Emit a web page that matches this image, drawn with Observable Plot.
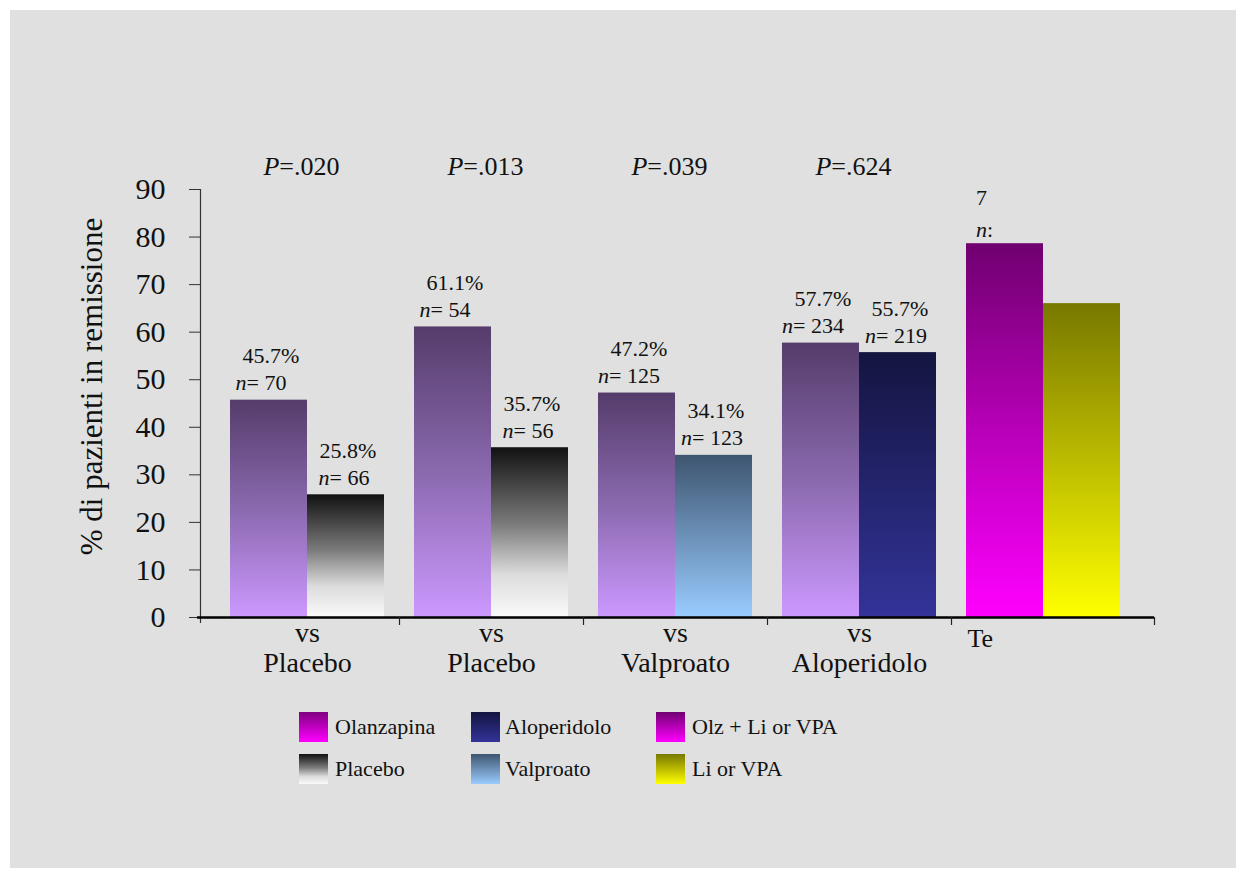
<!DOCTYPE html>
<html>
<head>
<meta charset="utf-8">
<script src="https://cdn.jsdelivr.net/npm/d3@7"></script>
<script src="https://cdn.jsdelivr.net/npm/@observablehq/plot@0.6"></script>
<style>
  html, body { margin: 0; padding: 0; background: #ffffff; }
  #wrap { position: relative; width: 1246px; height: 875px; font-family: "Liberation Serif", "Times New Roman", serif; color: #111; }
  #panel { position: absolute; left: 10px; top: 10px; width: 1226px; height: 858px; background: #dfe0df; }
  #chart { position: absolute; left: 0; top: 0; }
  .lg { position: absolute; display: flex; align-items: center; font-size: 22px; white-space: nowrap; }
  .sw { width: 29px; height: 30px; margin-right: 6px; }
</style>
</head>
<body>
<div id="wrap">
  <div id="panel"></div>
  <div id="chart"></div>
  <div id="legend"></div>
</div>
<script>
// ---- data ----
const groups = ["A", "B", "C", "D", "E"];
const groupTopLabels = ["vs", "vs", "vs", "vs"];
const groupBottomLabels = ["Placebo", "Placebo", "Valproato", "Aloperidolo"];
const lastGroupLabel = "Te";
const pValues = [".020", ".013", ".039", ".624"];

const leftSeries = ["Olanzapina", "Olanzapina", "Olanzapina", "Olanzapina", "Olz + Li or VPA"];
const leftValues = [45.7, 61.1, 47.2, 57.7, 78.6];
const leftN = [70, 54, 125, 234];

const rightSeries = ["Placebo", "Placebo", "Valproato", "Aloperidolo", "Li or VPA"];
const rightValues = [25.8, 35.7, 34.1, 55.7, 66.0];
const rightN = [66, 56, 123, 219];

const yTicks = [0, 10, 20, 30, 40, 50, 60, 70, 80, 90];
const yTitle = "% di pazienti in remissione";

const legendItems = [
  ["Olanzapina", "Aloperidolo", "Olz + Li or VPA"],
  ["Placebo", "Valproato", "Li or VPA"]
];

// ---- styles (gradients) ----
const barGradients = {
  "Olanzapina": [[0, "#553c6b"], [0.5, "#8a69ae"], [1, "#cc99ff"]],
  "Placebo": [[0, "#111111"], [0.45, "#7a7a7a"], [0.75, "#dcdcdc"], [1, "#fafafa"]],
  "Valproato": [[0, "#3e5570"], [1, "#99ccff"]],
  "Aloperidolo": [[0, "#141540"], [1, "#333399"]],
  "Olz + Li or VPA": [[0, "#700070"], [1, "#ff00ff"]],
  "Li or VPA": [[0, "#787800"], [1, "#ffff00"]]
};
const legendGradients = Object.assign({}, barGradients, {
  "Olanzapina": [[0, "#800080"], [1, "#ff00ff"]]
});
const gid = s => "g_" + s.replace(/[^A-Za-z]/g, "");

const left = groups.map((g, i) => ({group: g, value: leftValues[i], fill: `url(#${gid(leftSeries[i])})`, pct: leftValues[i].toFixed(1) + "%", n: leftN[i]}));
const right = groups.map((g, i) => ({group: g, value: rightValues[i], fill: `url(#${gid(rightSeries[i])})`, pct: rightValues[i].toFixed(1) + "%", n: rightN[i]}));
const labeledLeft = left.slice(0, 4);
const labeledRight = right.slice(0, 4);
const lastLeft = left.slice(4);

const font = "'Liberation Serif', 'Times New Roman', serif";
const off = 38.5;

const svg = Plot.plot({
  width: 1246,
  height: 690,
  marginLeft: 200,
  marginRight: 92,
  marginTop: 189,
  marginBottom: 73,
  style: {background: "transparent", fontFamily: font, color: "#111", overflow: "visible"},
  x: {domain: groups, range: [215, 1135], padding: 0, axis: null},
  y: {domain: [0, 90], axis: null},
  color: {type: "identity"},
  marks: [
    Plot.axisY({ticks: yTicks, tickSize: 11, tickPadding: 24, fontSize: 30, label: null, stroke: "#333", fill: "#111"}),
    Plot.text([yTitle], {frameAnchor: "left", text: d => d, rotate: -90, textAnchor: "middle", lineAnchor: "middle", dx: -108, dy: -17, fontSize: 31, fill: "#111"}),
    Plot.barY(left, {x: "group", y: "value", fill: "fill", insetLeft: 15, insetRight: 92}),
    Plot.barY(right, {x: "group", y: "value", fill: "fill", insetLeft: 92, insetRight: 15}),
    Plot.ruleX([groups[0]], {x: d => d, dx: -107, stroke: "#333", strokeWidth: 1.2, insetBottom: -6}),
    Plot.ruleY([0], {stroke: "#000", strokeWidth: 2.5, insetLeft: -3}),
    Plot.ruleX(groups.slice(1), {x: d => d, y1: 0, y2: 0, dx: -92, insetBottom: -8, stroke: "#222", strokeWidth: 1.2}),
    Plot.ruleX([groups[4]], {x: d => d, y1: 0, y2: 0, dx: 111, insetBottom: -8, stroke: "#222", strokeWidth: 1.2}),
    // value labels
    Plot.text(labeledLeft, {x: "group", y: "value", text: "pct", dx: -off + 2, dy: -44, fontSize: 22, fill: "#111"}),
    Plot.text(labeledRight, {x: "group", y: "value", text: "pct", dx: off + 2, dy: -44, fontSize: 22, fill: "#111"}),
    Plot.text(labeledLeft, {x: "group", y: "value", text: d => "n= " + d.n, dx: -off - 8, dy: -17, fontSize: 22, fill: "#111", ariaDescription: "ital"}),
    Plot.text(labeledRight, {x: "group", y: "value", text: d => "n= " + d.n, dx: off - 2, dy: -17, fontSize: 22, fill: "#111", ariaDescription: "ital"}),
    // truncated labels of last group
    Plot.text(lastLeft, {x: "group", y: "value", text: d => d.pct.slice(0, 1), textAnchor: "start", dx: -off - 29, dy: -46, fontSize: 22, fill: "#111"}),
    Plot.text(lastLeft, {x: "group", y: "value", text: () => "n:", textAnchor: "start", dx: -off - 29, dy: -14, fontSize: 22, fill: "#111", ariaDescription: "ital"}),
    // p-values
    Plot.text(groups.slice(0, 4), {x: d => d, text: (d, i) => "P=" + pValues[i], frameAnchor: "top", lineAnchor: "middle", dy: -23, dx: -6, fontSize: 26, fill: "#111", ariaDescription: "ital"}),
    // group labels
    Plot.text(groups.slice(0, 4), {x: d => d, text: (d, i) => groupTopLabels[i] + "\n" + groupBottomLabels[i], frameAnchor: "bottom", lineAnchor: "middle", lineHeight: 1.07, dy: 30, fontSize: 28, fill: "#111"}),
    Plot.text([groups[4]], {x: d => d, text: () => lastGroupLabel, frameAnchor: "bottom", textAnchor: "start", lineAnchor: "middle", dx: -76, dy: 21, fontSize: 26, fill: "#111"})
  ]
});

// gradient definitions
const defs = d3.select(svg).insert("defs", ":first-child");
Object.entries(barGradients).forEach(([name, stops]) => {
  const lg = defs.append("linearGradient").attr("id", gid(name)).attr("x1", 0).attr("y1", 0).attr("x2", 0).attr("y2", 1);
  stops.forEach(([o, c]) => lg.append("stop").attr("offset", o).attr("stop-color", c));
});

// italicize the first letter (n, P)
d3.select(svg).selectAll('g[aria-description="ital"] text').each(function () {
  const s = this.textContent;
  const el = d3.select(this);
  el.text(null);
  el.append("tspan").attr("font-style", "italic").text(s[0]);
  el.append("tspan").text(s.slice(1));
});

document.getElementById("chart").appendChild(svg);

// legend
const legendX = [[299, 335], [471, 505], [656, 692]];
const legendY = [712, 754];
const legendEl = document.getElementById("legend");
legendItems.forEach((row, r) => {
  row.forEach((name, c) => {
    const item = document.createElement("div");
    item.className = "lg";
    item.style.left = legendX[c][0] + "px";
    item.style.top = legendY[r] + "px";
    const sw = document.createElement("div");
    sw.className = "sw";
    const stops = legendGradients[name].map(([o, col]) => `${col} ${o * 100}%`).join(", ");
    sw.style.background = `linear-gradient(to bottom, ${stops})`;
    sw.style.marginRight = (legendX[c][1] - legendX[c][0] - 29) + "px";
    const t = document.createElement("span");
    t.textContent = name;
    item.appendChild(sw);
    item.appendChild(t);
    legendEl.appendChild(item);
  });
});
</script>
</body>
</html>
